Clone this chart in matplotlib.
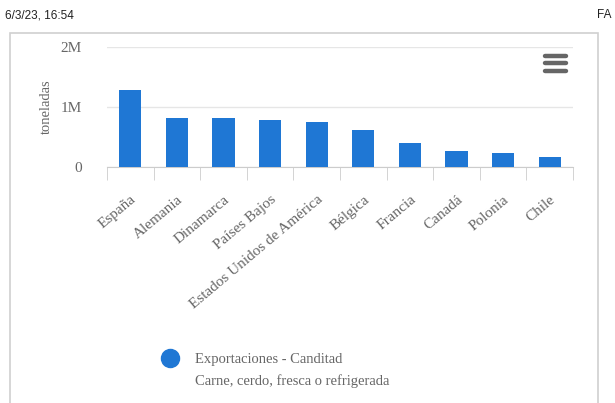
import matplotlib.pyplot as plt
from matplotlib.patches import Rectangle

paises = ['España', 'Alemania', 'Dinamarca', 'Países Bajos', 'Estados Unidos de América',
          'Bélgica', 'Francia', 'Canadá', 'Polonia', 'Chile']
toneladas = [1.28e6, 0.82e6, 0.82e6, 0.78e6, 0.75e6, 0.615e6, 0.40e6, 0.26e6, 0.235e6, 0.17e6]
yticks = [0, 1e6, 2e6]
ytick_labels = ['0', '1M', '2M']

azul = '#1f77d4'
gris = '#666666'
W, H = 615, 403

fig = plt.figure(figsize=(6.15, 4.03), dpi=100)
plt.rcParams['font.family'] = ['Liberation Serif', 'DejaVu Serif']

# page header
fig.text(5 / W, 1 - 15 / H, '6/3/23, 16:54', family='Liberation Sans', fontsize=8.5,
         color='#222222', va='center', ha='left')
fig.text(597 / W, 1 - 15 / H, 'FA', family='Liberation Sans', fontsize=8.5,
         color='#222222', va='center', ha='left')

# chart panel border
fig.patches.append(Rectangle((10 / W, -0.05), 588 / W, (1 - 33 / H) + 0.05,
                             transform=fig.transFigure, fill=False,
                             edgecolor='#d0d0d0', linewidth=1.2))

# plot area
x0, x1 = 107, 573
y_top, y_bot = 47.3, 166.7
ax = fig.add_axes([x0 / W, 1 - y_bot / H, (x1 - x0) / W, (y_bot - y_top) / H])
x = range(len(paises))
ax.bar(x, toneladas, width=0.48, color=azul, zorder=3)
ax.set_xlim(-0.5, len(paises) - 0.5)
ax.set_ylim(0, 2e6)
ax.set_yticks(yticks)
ax.set_yticklabels(ytick_labels, color=gris, fontsize=11)
ax.grid(axis='y', color='#e6e6e6', linewidth=1, zorder=0)
for s in ['top', 'right', 'left']:
    ax.spines[s].set_visible(False)
ax.spines['bottom'].set_color('#cccccc')
ax.tick_params(axis='y', length=0, pad=18)
ax.set_xticks([i - 0.5 for i in range(len(paises) + 1)], minor=True)
ax.set_xticks(list(x))
ax.set_xticklabels(paises, rotation=40, ha='right', rotation_mode='anchor',
                   color=gris, fontsize=11)
ax.tick_params(axis='x', which='major', length=0, pad=19)
ax.tick_params(axis='x', which='minor', length=9, color='#cccccc')
ax.set_ylabel('toneladas', color=gris, fontsize=10.5, labelpad=6)

# hamburger menu icon
for yy in [56, 63.3, 71]:
    fig.add_artist(plt.Line2D([545 / W, 566 / W], [1 - yy / H] * 2, color='#666666',
                              linewidth=3.2, solid_capstyle='round'))

# legend
fig.add_artist(plt.Line2D([170 / W], [1 - 358 / H], marker='o', markersize=13,
                          color=azul, linestyle='none'))
fig.text(195 / W, 1 - 360 / H, 'Exportaciones - Canditad', color=gris, fontsize=10.5,
         va='center', ha='left')
fig.text(195 / W, 1 - 381 / H, 'Carne, cerdo, fresca o refrigerada', color=gris,
         fontsize=10.5, va='center', ha='left')

fig.savefig('out.png', dpi=100)
